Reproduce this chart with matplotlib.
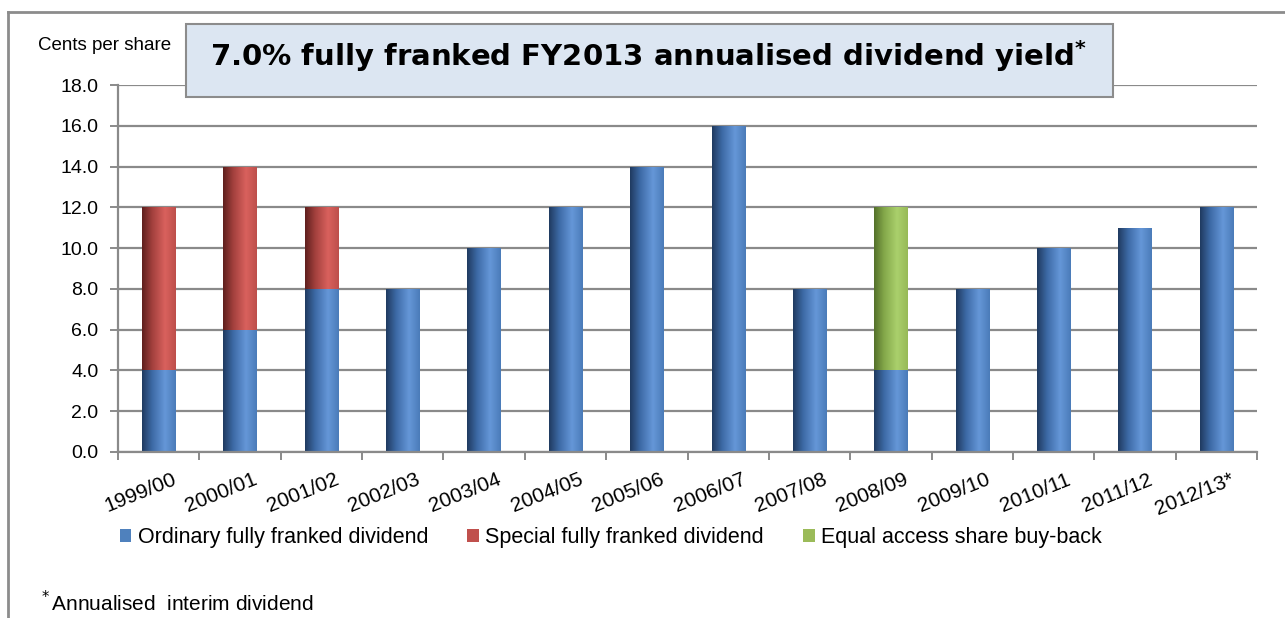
import numpy as np
import matplotlib
matplotlib.use("Agg")
import matplotlib.pyplot as plt
import matplotlib.transforms as mtrans
from matplotlib.colors import LinearSegmentedColormap
from matplotlib.patches import Rectangle, Patch
from matplotlib.lines import Line2D

years = ["1999/00", "2000/01", "2001/02", "2002/03", "2003/04", "2004/05", "2005/06",
         "2006/07", "2007/08", "2008/09", "2009/10", "2010/11", "2011/12", "2012/13*"]
ordinary = [4, 6, 8, 8, 10, 12, 14, 16, 8, 4, 8, 10, 11, 12]
special = [8, 8, 4, 0, 0, 0, 0, 0, 0, 0, 0, 0, 0, 0]
buyback = [0, 0, 0, 0, 0, 0, 0, 0, 0, 8, 0, 0, 0, 0]
series_names = ["Ordinary fully franked dividend", "Special fully franked dividend",
                "Equal access share buy-back"]
yticks = [0, 2, 4, 6, 8, 10, 12, 14, 16, 18]

plt.rcParams['font.family'] = ['Liberation Sans', 'DejaVu Sans']

W, H = 1285, 618
fig = plt.figure(figsize=(W / 100, H / 100), dpi=100)
fig.patch.set_facecolor('white')

ax = fig.add_axes([118 / W, 1 - 452 / H, (1257 - 118) / W, (452 - 85) / H])

base_colors = ['#4f81bd', '#c0504d', '#9bbb59']
cmaps = [
    LinearSegmentedColormap.from_list('b', [(0, '#1f3a5f'), (0.3, '#3d6aa6'), (0.68, '#6597d8'), (1, '#4a7bb8')]),
    LinearSegmentedColormap.from_list('r', [(0, '#5e1f1d'), (0.3, '#a2403d'), (0.68, '#d9615d'), (1, '#bd4f4b')]),
    LinearSegmentedColormap.from_list('g', [(0, '#53702a'), (0.3, '#84a84a'), (0.68, '#aad06c'), (1, '#97b957')]),
]

x = np.arange(len(years))
width = 0.41
bottoms = np.zeros(len(years))
grad = np.linspace(0, 1, 256).reshape(1, -1)
for vals, cmap in zip([ordinary, special, buyback], cmaps):
    bars = ax.bar(x, vals, width, bottom=bottoms, color='none', edgecolor='none', zorder=2)
    for rect, v in zip(bars, vals):
        if v <= 0:
            continue
        x0, y0 = rect.get_x(), rect.get_y()
        im = ax.imshow(grad, cmap=cmap, extent=[x0, x0 + rect.get_width(), y0, y0 + rect.get_height()],
                       aspect='auto', zorder=2, interpolation='bilinear')
        im.set_clip_path(rect)
    bottoms = bottoms + np.array(vals)

ax.set_xlim(-0.5, len(years) - 0.5)
ax.set_ylim(0, 18)
ax.set_aspect('auto')

ax.set_yticks(yticks)
ax.set_yticklabels([f"{v:.1f}" for v in yticks], fontsize=14)
ax.yaxis.grid(True, color='#8a8a8a', linewidth=1.6, zorder=1)
ax.set_axisbelow(True)

ax.set_xticks(x)
ax.set_xticklabels(years, fontsize=15, rotation=22, ha='right', rotation_mode='anchor')
ax.set_xticks(np.arange(-0.5, len(years), 1), minor=True)
ax.tick_params(axis='x', which='major', length=0, pad=13)
ax.tick_params(axis='x', which='minor', length=6, width=1.4, color='#8a8a8a')
ax.tick_params(axis='y', length=6, width=1.4, color='#8a8a8a', pad=8)
offset = mtrans.ScaledTranslation(13 / 100, 0, fig.dpi_scale_trans)
for lbl in ax.get_xticklabels():
    lbl.set_transform(lbl.get_transform() + offset)

for s in ['top', 'right']:
    ax.spines[s].set_visible(False)
for s in ['left', 'bottom']:
    ax.spines[s].set_color('#8a8a8a')
    ax.spines[s].set_linewidth(1.6)

# Outer frame (top and left visible)
fig.add_artist(Line2D([8 / W, 1.0], [1 - 12 / H, 1 - 12 / H], transform=fig.transFigure,
                      color='#8c8c8c', linewidth=2))
fig.add_artist(Line2D([8 / W, 8 / W], [1 - 12 / H, 0], transform=fig.transFigure,
                      color='#8c8c8c', linewidth=2))

# Title box
fig.add_artist(Rectangle((186 / W, 1 - 97 / H), (1113 - 186) / W, 73 / H, transform=fig.transFigure,
                         facecolor='#dce6f2', edgecolor='#8c8c8c', linewidth=1.5, zorder=5))
fig.text(648 / W, 1 - 56 / H, r"7.0% fully franked FY2013 annualised dividend yield$^{\mathbf{*}}$",
         ha='center', va='center', fontsize=21, fontweight='bold', family='DejaVu Sans', zorder=6)

fig.text(38 / W, 1 - 46 / H, "Cents per share", ha='left', va='center', fontsize=13.5)

handles = [Patch(facecolor=c, edgecolor='none') for c in base_colors]
fig.legend(handles, series_names, loc='center left', bbox_to_anchor=(111 / W, 1 - 538 / H),
           ncol=3, frameon=False, fontsize=15.5, handlelength=0.55, handleheight=0.55,
           handletextpad=0.3, columnspacing=1.8, borderaxespad=0)

fig.text(38 / W, 1 - 603 / H, r"$^*$Annualised  interim dividend", ha='left', va='center', fontsize=15)

fig.savefig("out.png", dpi=100)
